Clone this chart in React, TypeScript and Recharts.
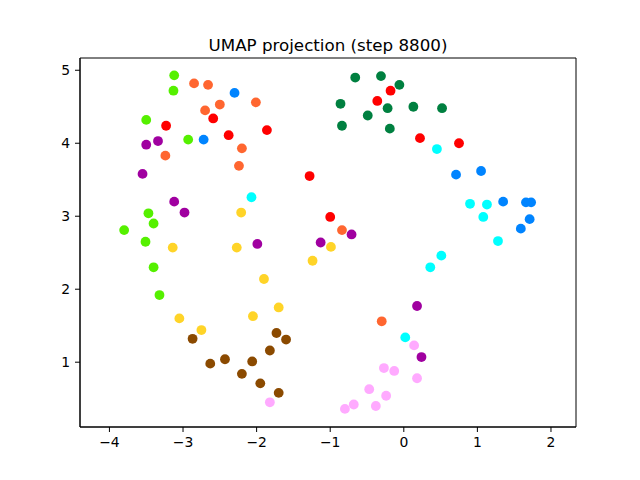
import { ScatterChart, Scatter, XAxis, YAxis, ReferenceArea } from 'recharts'

// one array of [x, y] pairs per cluster
const lime = [[-3.12, 4.93], [-3.13, 4.72], [-3.5, 4.32], [-2.93, 4.05], [-3.47, 3.04], [-3.4, 2.9], [-3.8, 2.81], [-3.51, 2.65], [-3.4, 2.3], [-3.32, 1.92]]
const orange = [[-2.85, 4.82], [-2.66, 4.8], [-2.5, 4.53], [-2.01, 4.56], [-2.7, 4.45], [-2.2, 3.93], [-3.24, 3.83], [-2.24, 3.69], [-0.84, 2.81], [-0.3, 1.56]]
const blue = [[-2.3, 4.69], [-2.72, 4.05], [0.71, 3.57], [1.05, 3.62], [1.35, 3.2], [1.66, 3.19], [1.73, 3.19], [1.71, 2.96], [1.59, 2.83]]
const red = [[-2.59, 4.34], [-3.23, 4.24], [-1.86, 4.18], [-2.38, 4.11], [-1.28, 3.55], [-0.18, 4.72], [-0.36, 4.58], [0.22, 4.07], [0.75, 4.0], [-1.0, 2.99]]
const purple = [[-3.34, 4.03], [-3.5, 3.98], [-3.55, 3.58], [-3.12, 3.2], [-2.98, 3.05], [-1.99, 2.62], [-1.13, 2.64], [-0.71, 2.75], [0.18, 1.77], [0.24, 1.07]]
const cyan = [[-2.07, 3.26], [0.45, 3.92], [0.9, 3.17], [1.13, 3.16], [1.08, 2.99], [1.28, 2.66], [0.51, 2.46], [0.36, 2.3], [0.02, 1.34]]
const darkGreen = [[-0.66, 4.9], [-0.31, 4.92], [-0.06, 4.8], [-0.86, 4.54], [-0.22, 4.48], [0.13, 4.5], [0.52, 4.48], [-0.49, 4.38], [-0.84, 4.24], [-0.19, 4.2]]
const yellow = [[-2.21, 3.05], [-3.14, 2.57], [-2.27, 2.57], [-1.24, 2.39], [-0.99, 2.58], [-1.9, 2.14], [-1.7, 1.75], [-3.05, 1.6], [-2.05, 1.63], [-2.75, 1.44]]
const brown = [[-2.87, 1.32], [-1.73, 1.4], [-1.6, 1.31], [-1.82, 1.16], [-2.43, 1.04], [-2.63, 0.98], [-2.06, 1.01], [-2.2, 0.84], [-1.95, 0.71], [-1.7, 0.58]]
const pink = [[-1.82, 0.45], [0.14, 1.23], [-0.27, 0.92], [-0.13, 0.88], [0.18, 0.78], [-0.47, 0.63], [-0.24, 0.54], [-0.68, 0.42], [-0.8, 0.36], [-0.38, 0.4]]

const xTicks = [-4, -3, -2, -1, 0, 1, 2]
const yTicks = [1, 2, 3, 4, 5]

const series = [
    { name: 'lime', pts: lime, color: '#55f000' },
    { name: 'orange', pts: orange, color: '#ff6630' },
    { name: 'blue', pts: blue, color: '#0084ff' },
    { name: 'red', pts: red, color: '#ff0000' },
    { name: 'purple', pts: purple, color: '#a000a0' },
    { name: 'cyan', pts: cyan, color: '#00ffff' },
    { name: 'darkGreen', pts: darkGreen, color: '#008040' },
    { name: 'yellow', pts: yellow, color: '#ffd428' },
    { name: 'brown', pts: brown, color: '#8b4a00' },
    { name: 'pink', pts: pink, color: '#ffaaff' },
]

const X_MIN = -4.4
const X_MAX = 2.34
const Y_MIN = 0.112
const Y_MAX = 5.168

const fmt = (v: number) => (v < 0 ? '\u2212' + Math.abs(v) : String(v))
const tickStyle = { fill: '#000', fontSize: 13.9, fontFamily: 'DejaVu Sans' }

export default function App() {
    return (
        <div style={{ position: 'absolute', left: 0, top: 0, width: 640, height: 480, background: '#fff' }}>
            <ScatterChart width={640} height={480} margin={{ top: 58, right: 64, bottom: 23, left: 40 }}>
                <XAxis
                    type="number"
                    dataKey="x"
                    domain={[X_MIN, X_MAX]}
                    ticks={xTicks}
                    tickFormatter={fmt}
                    height={30}
                    tickSize={5}
                    tickMargin={5}
                    tick={tickStyle}
                    stroke="#000"
                    allowDataOverflow
                />
                <YAxis
                    type="number"
                    dataKey="y"
                    domain={[Y_MIN, Y_MAX]}
                    ticks={yTicks}
                    tickFormatter={fmt}
                    width={40}
                    tickSize={5}
                    tickMargin={5}
                    tick={tickStyle}
                    stroke="#000"
                    allowDataOverflow
                />
                <ReferenceArea x1={X_MIN} x2={X_MAX} y1={Y_MIN} y2={Y_MAX} fill="none" stroke="#000" strokeWidth={1} />
                {series.map((s) => (
                    <Scatter
                        key={s.name}
                        data={s.pts.map(([x, y]) => ({ x, y }))}
                        fill={s.color}
                        isAnimationActive={false}
                        shape={(p: any) => <circle cx={p.cx} cy={p.cy} r={4.9} fill={s.color} />}
                    />
                ))}
            </ScatterChart>
            <svg width={640} height={480} style={{ position: 'absolute', left: 0, top: 0, pointerEvents: 'none' }}>
                <text x={328} y={50.5} textAnchor="middle" fontFamily="DejaVu Sans" fontSize={16.7} fill="#000">
                    UMAP projection (step 8800)
                </text>
            </svg>
        </div>
    )
}
